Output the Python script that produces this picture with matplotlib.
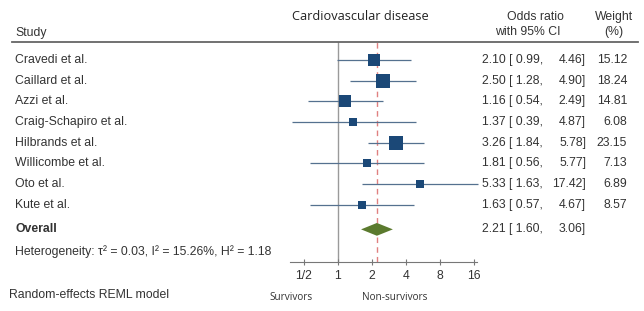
import matplotlib.pyplot as plt
import matplotlib.transforms as mtransforms
from matplotlib.lines import Line2D
import numpy as np

plt.rcParams['font.family'] = ['Liberation Sans', 'DejaVu Sans']

studies = ['Cravedi et al.', 'Caillard et al.', 'Azzi et al.', 'Craig-Schapiro et al.',
           'Hilbrands et al.', 'Willicombe et al.', 'Oto et al.', 'Kute et al.']
odds = [2.10, 2.50, 1.16, 1.37, 3.26, 1.81, 5.33, 1.63]
ci_low = [0.99, 1.28, 0.54, 0.39, 1.84, 0.56, 1.63, 0.57]
ci_high = [4.46, 4.90, 2.49, 4.87, 5.78, 5.77, 17.42, 4.67]
weights = [15.12, 18.24, 14.81, 6.08, 23.15, 7.13, 6.89, 8.57]
overall = (2.21, 1.60, 3.06)
ticks = [0.5, 1, 2, 4, 8, 16]
tick_labels = ['1/2', '1', '2', '4', '8', '16']

W, H = 644, 311
SQ = '#1b4877'
CI = '#55718f'
FS = 8.8


def main():
    fig = plt.figure(figsize=(W / 100, H / 100), dpi=100)
    ax = fig.add_axes([290 / W, 1 - 262 / H, 187 / W, 220 / H])
    ax.set_xscale('log', base=2)
    ax.set_xlim(0.376, 17.0)
    ax.set_ylim(9.78, -0.87)

    rows = np.arange(len(studies))
    ax.hlines(rows, ci_low, ci_high, color=CI, lw=0.9, clip_on=False, zorder=2)
    for y, v, w in zip(rows, odds, weights):
        ax.plot(v, y, 's', ms=2.2 * np.sqrt(w), color=SQ, mew=0, zorder=3)

    oy = 8.2
    est, lo, hi = overall
    ax.fill([lo, est, hi, est], [oy, oy - 0.31, oy, oy + 0.31], color='#5b7a2e', lw=0, zorder=3)
    ax.axvline(1, color='#9a9a9a', lw=1.0, zorder=1)
    ax.axvline(est, color='#e08080', lw=1.0, ls=(0, (4, 3)), zorder=1)

    for s in ['top', 'right', 'left']:
        ax.spines[s].set_visible(False)
    ax.spines['bottom'].set_color('#777777')
    ax.set_yticks([])
    ax.set_xticks(ticks)
    ax.set_xticklabels(tick_labels, fontsize=FS, color='#333333')
    ax.xaxis.set_minor_locator(plt.NullLocator())
    ax.tick_params(axis='x', direction='inout', length=5, color='#777777', pad=3)

    tr = mtransforms.blended_transform_factory(fig.transFigure, ax.transData)
    txt = dict(fontsize=FS, color='#333333', va='center', transform=tr)
    for y, name, v, l, h, w in zip(rows, studies, odds, ci_low, ci_high, weights):
        ax.text(15 / W, y, name, ha='left', **txt)
        ax.text(482 / W, y, f'{v:.2f} [ {l:.2f},', ha='left', **txt)
        ax.text(586 / W, y, f'{h:.2f}]', ha='right', **txt)
        ax.text(627 / W, y, f'{w:.2f}', ha='right', **txt)
    ax.text(15 / W, oy, 'Overall', ha='left', fontweight='bold', **txt)
    ax.text(482 / W, oy, f'{est:.2f} [ {lo:.2f},', ha='left', **txt)
    ax.text(586 / W, oy, f'{hi:.2f}]', ha='right', **txt)
    ax.text(15 / W, 9.27, 'Heterogeneity: \u03c4\u00b2 = 0.03, I\u00b2 = 15.26%, H\u00b2 = 1.18',
            ha='left', **txt)

    def ftext(x, y, s, **kw):
        kw.setdefault('fontsize', FS)
        kw.setdefault('color', '#333333')
        fig.text(x / W, 1 - y / H, s, va='center', **kw)

    ftext(15, 33, 'Study')
    ftext(360, 17, 'Cardiovascular disease', ha='center', fontsize=9.2,
          family=['Open Sans', 'DejaVu Sans'], color='#222222')
    ftext(535, 17, 'Odds ratio', ha='center')
    ftext(528, 32, 'with 95% CI', ha='center')
    ftext(614, 17, 'Weight', ha='center')
    ftext(614, 32, '(%)', ha='center')
    ftext(9, 295, 'Random-effects REML model')
    ftext(291, 298, 'Survivors', ha='center', fontsize=7.2, family=['Open Sans', 'DejaVu Sans'])
    ftext(395, 298, 'Non-survivors', ha='center', fontsize=7.2, family=['Open Sans', 'DejaVu Sans'])

    fig.add_artist(Line2D([12 / W, 638 / W], [1 - 42 / H, 1 - 42 / H],
                          transform=fig.transFigure, color='#666666', lw=1.3))

    fig.savefig('out.png', dpi=100, facecolor='white')


if __name__ == '__main__':
    main()
